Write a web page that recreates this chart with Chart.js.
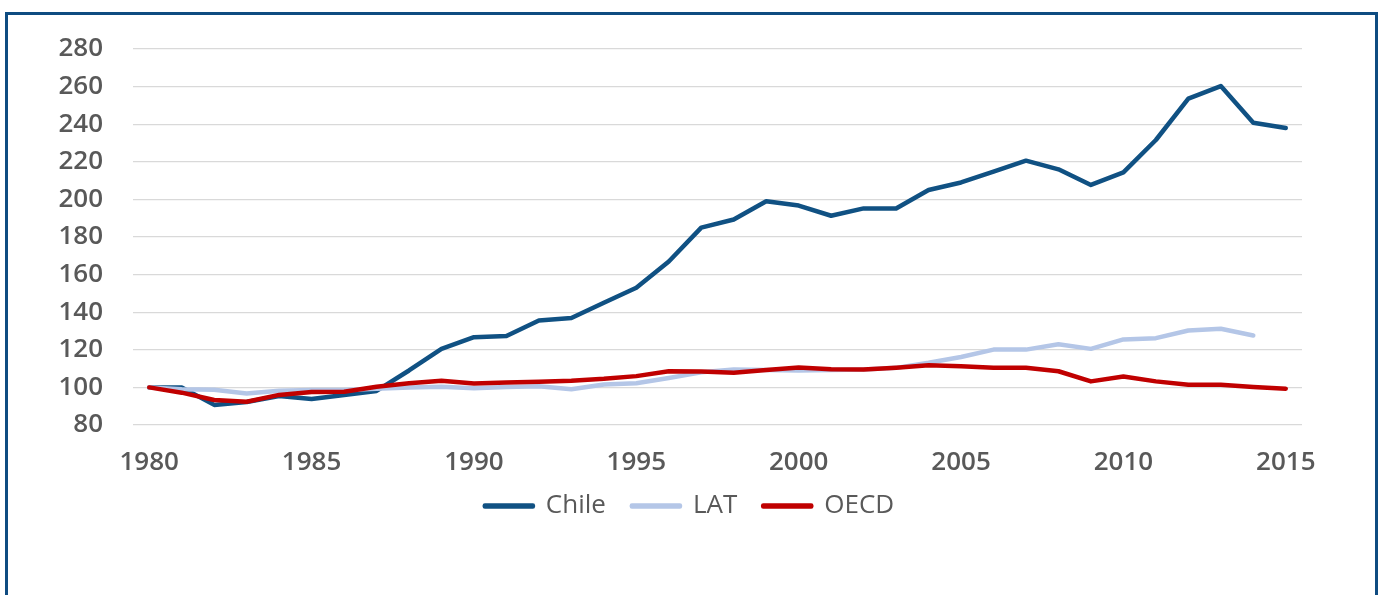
<!DOCTYPE html>
<html lang="en">
<head>
    <meta charset="UTF-8">
    <title>Chile vs LAT vs OECD</title>
    <script src="https://cdn.jsdelivr.net/npm/chart.js"></script>
    <style>
        html, body {
            margin: 0;
            padding: 0;
            background: #fff;
            overflow: hidden;
        }
        #wrap {
            position: relative;
            width: 1382px;
            height: 595px;
        }
        #frame {
            position: absolute;
            left: 5px;
            top: 12px;
            width: 1373px;
            height: 700px;
            box-sizing: border-box;
            border: 3px solid #0F4C81;
        }
        canvas {
            position: absolute;
            left: 0;
            top: 0;
        }
    </style>
</head>
<body>
<div id="wrap">
    <div id="frame"></div>
    <canvas id="myChart" width="1382" height="595"></canvas>
</div>

<script>
    // years on the x axis
    const years = [];
    for (let y = 1980; y <= 2015; y++) years.push(y);

    // index, 1980 = 100
    const chile = [100, 100, 90.7, 92.2, 95.4, 93.8, 95.9, 98.1, 109, 120.5,
                   126.7, 127.3, 135.6, 136.9, 145, 153, 167, 185, 189.3, 199,
                   196.7, 191.3, 195.2, 195.2, 205, 209, 214.8, 220.6, 216, 207.7,
                   214.4, 231.6, 253.6, 260.3, 240.8, 238];
    const lat = [100, 99, 98.8, 96.8, 98.2, 98.6, 98.6, 99.3, 100, 100.4,
                 99.5, 100.2, 100.6, 99, 101.5, 102.2, 105, 108, 109.5, 109.2,
                 109, 109.3, 109.5, 110.4, 113.1, 116.2, 120.1, 120.1, 123, 120.5,
                 125.5, 126.2, 130.3, 131.2, 127.6, null];
    const oecd = [100, 97.2, 93.3, 92.4, 96, 97.6, 97.7, 100.3, 102.2, 103.5,
                  102.1, 102.6, 103, 103.6, 104.6, 106, 108.6, 108.5, 107.8, 109.2,
                  110.6, 109.6, 109.5, 110.5, 111.8, 111.2, 110.4, 110.4, 108.6, 103.2,
                  105.8, 103.2, 101.4, 101.4, 100.2, 99.3];

    const yMin = 80, yMax = 280, yStep = 20;

    Chart.defaults.font.family = "'Open Sans', 'Liberation Sans', sans-serif";
    Chart.defaults.color = '#595959';

    // nudge the legend so it sits where the original one does
    const legendShift = {
        id: 'legendShift',
        afterLayout(chart) {
            const l = chart.legend;
            if (!l) return;
            l.left += 77;
            l.width = l.right - l.left;
            l.top -= 14;
            l.bottom -= 14;
        }
    };

    const ctx = document.getElementById('myChart').getContext('2d');
    const lineStyle = (color) => ({
        borderColor: color,
        backgroundColor: color,
        borderWidth: 4.5,
        pointRadius: 0,
        pointHoverRadius: 0,
        tension: 0,
        borderCapStyle: 'round',
        borderJoinStyle: 'round',
        fill: false
    });

    const myChart = new Chart(ctx, {
        type: 'line',
        data: {
            labels: years,
            datasets: [
                Object.assign({ label: 'Chile', data: chile, order: 3 }, lineStyle('#105183')),
                Object.assign({ label: 'LAT', data: lat, order: 2 }, lineStyle('#B4C6E7')),
                Object.assign({ label: 'OECD', data: oecd, order: 1 }, lineStyle('#C00000'))
            ]
        },
        plugins: [legendShift],
        options: {
            responsive: false,
            animation: false,
            events: [],
            layout: {
                padding: { left: 0, right: 80, top: 49, bottom: 52 }
            },
            plugins: {
                tooltip: { enabled: false },
                legend: {
                    position: 'bottom',
                    labels: {
                        boxWidth: 48,
                        boxHeight: 1,
                        padding: 26,
                        color: '#595959',
                        font: { size: 26, weight: 'normal' },
                        sort: (a, b) => a.datasetIndex - b.datasetIndex
                    }
                }
            },
            scales: {
                x: {
                    type: 'category',
                    offset: true,
                    grid: { display: false, drawTicks: false },
                    border: { display: false },
                    ticks: {
                        autoSkip: false,
                        maxRotation: 0,
                        padding: 22,
                        color: '#595959',
                        font: { size: 26, weight: 600 },
                        callback: function (value, index) {
                            const yr = years[index];
                            return yr % 5 === 0 ? String(yr) : '';
                        }
                    },
                    afterFit: (s) => { s.height = 56; }
                },
                y: {
                    min: yMin,
                    max: yMax,
                    grid: { color: '#D9D9D9', lineWidth: 1.2, drawTicks: false },
                    border: { display: false },
                    ticks: {
                        stepSize: yStep,
                        padding: 30,
                        color: '#595959',
                        font: { size: 26, weight: 600 }
                    },
                    afterFit: (s) => { s.width = 133; }
                }
            }
        }
    });
</script>
</body>
</html>
